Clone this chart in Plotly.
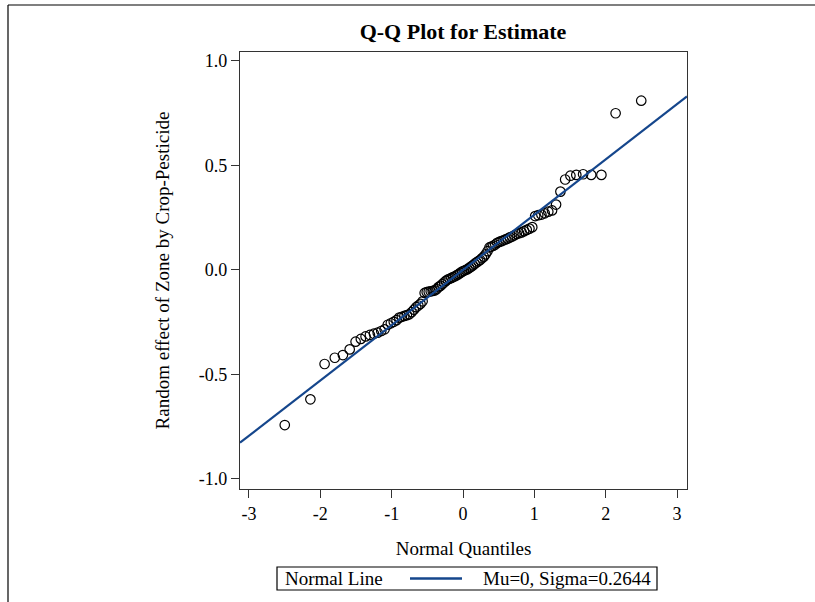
from statistics import NormalDist
import plotly.graph_objects as go

# Sorted random-effect estimates
estimates = [
    -0.742, -0.619, -0.450, -0.420, -0.407, -0.380, -0.343, -0.330, -0.318, -0.311,
    -0.305, -0.300, -0.292, -0.284, -0.262, -0.255, -0.248, -0.240, -0.228, -0.224,
    -0.220, -0.216, -0.212, -0.202, -0.190, -0.178, -0.170, -0.162, -0.150, -0.110,
    -0.106, -0.104, -0.102, -0.100, -0.098, -0.092, -0.082, -0.076, -0.068, -0.060,
    -0.052, -0.046, -0.042, -0.038, -0.034, -0.030, -0.025, -0.020, -0.014, -0.008,
    -0.004, 0.000, 0.004, 0.010, 0.016, 0.022, 0.030, 0.036, 0.042, 0.048,
    0.056, 0.064, 0.075, 0.090, 0.108, 0.112, 0.116, 0.122, 0.130, 0.134,
    0.138, 0.142, 0.146, 0.150, 0.156, 0.160, 0.166, 0.172, 0.176, 0.180,
    0.186, 0.192, 0.198, 0.205, 0.258, 0.262, 0.265, 0.271, 0.279, 0.285,
    0.313, 0.375, 0.433, 0.451, 0.455, 0.458, 0.455, 0.455, 0.750, 0.810,
]
mu = 0.0
sigma = 0.2644
x_ticks = [-3, -2, -1, 0, 1, 2, 3]
y_ticks = [-1.0, -0.5, 0.0, 0.5, 1.0]
x_range = [-3.126, 3.14]
y_range = [-1.048, 1.043]
legend_title = "Normal Line"
line_label = "Mu=0, Sigma=0.2644"

n = len(estimates)
nd = NormalDist()
quantiles = [nd.inv_cdf((i + 1 - 0.375) / (n + 0.25)) for i in range(n)]

FONT = "Liberation Serif"
LINE_COLOR = "#15468C"

# plot area in pixels (page body margin removed via post_script)
PL, PR, PT, PB = 240, 687, 52, 489
PW, PH = PR - PL, PB - PT


def px(X):
    return (X - PL) / PW


def py(Y):
    return (PB - Y) / PH


fig = go.Figure()
fig.add_trace(go.Scatter(
    x=quantiles, y=estimates, mode="markers",
    marker=dict(symbol="circle-open", size=9.5, color="black", line=dict(width=1.2, color="black")),
    showlegend=False, hoverinfo="x+y",
))
fig.add_trace(go.Scatter(
    x=x_range, y=[mu + sigma * v for v in x_range], mode="lines",
    line=dict(color=LINE_COLOR, width=2.2),
    name=line_label, showlegend=False,
))

axis_common = dict(
    showline=True, linecolor="#333333", linewidth=1.3, mirror=True,
    ticks="outside", ticklen=8, tickwidth=1, tickcolor="#333333",
    showgrid=False, zeroline=False,
    tickfont=dict(family=FONT, size=18, color="black"),
)
fig.update_xaxes(range=x_range, tickvals=x_ticks, ticktext=[str(v) for v in x_ticks],
                 title=dict(text="Normal Quantiles", font=dict(family=FONT, size=19, color="black"), standoff=18),
                 **axis_common)
fig.update_yaxes(range=y_range, tickvals=y_ticks, ticktext=[f"{v:.1f}" for v in y_ticks],
                 title=dict(text="Random effect of Zone by Crop-Pesticide", font=dict(family=FONT, size=19, color="black"), standoff=24),
                 **axis_common)

leg_top, leg_bot, leg_l, leg_r = 567, 590, 277, 657
leg_mid = (leg_top + leg_bot) / 2

fig.update_layout(
    width=815, height=602,
    margin=dict(l=PL, r=815 - PR, t=PT, b=602 - PB, autoexpand=False),
    paper_bgcolor="white", plot_bgcolor="white",
    showlegend=False,
    title=dict(text="<b>Q-Q Plot for Estimate</b>", x=463 / 815, xanchor="center",
               y=1 - 31 / 602, yanchor="middle", font=dict(family=FONT, size=22, color="black")),
    shapes=[
        # outer frame
        dict(type="line", xref="paper", yref="paper", x0=px(8), x1=px(830),
             y0=py(5), y1=py(5), line=dict(color="black", width=1.2)),
        dict(type="line", xref="paper", yref="paper", x0=px(8), x1=px(8),
             y0=py(5), y1=py(620), line=dict(color="black", width=1.2)),
        # legend box and sample line
        dict(type="rect", xref="paper", yref="paper", x0=px(leg_l), x1=px(leg_r),
             y0=py(leg_bot), y1=py(leg_top), line=dict(color="black", width=1.2), fillcolor="white"),
        dict(type="line", xref="paper", yref="paper", x0=px(410), x1=px(462),
             y0=py(leg_mid), y1=py(leg_mid), line=dict(color=LINE_COLOR, width=2.5)),
    ],
    annotations=[
        dict(text=legend_title, xref="paper", yref="paper", x=px(283), y=py(leg_mid),
             xanchor="left", yanchor="middle", showarrow=False,
             font=dict(family=FONT, size=19, color="black")),
        dict(text=line_label, xref="paper", yref="paper", x=px(653), y=py(leg_mid),
             xanchor="right", yanchor="middle", showarrow=False,
             font=dict(family=FONT, size=19, color="black")),
    ],
)

fig.write_html("out.html", config={"displayModeBar": False},
               post_script="document.body.style.margin='0px';")
